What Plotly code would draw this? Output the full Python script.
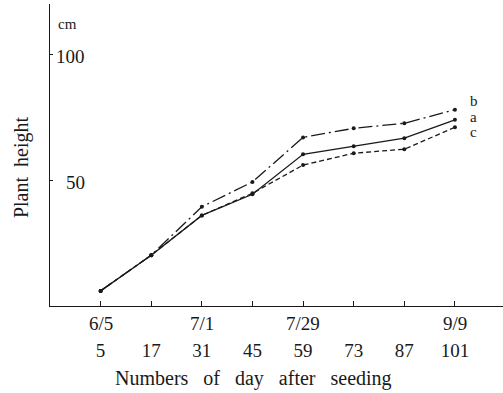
import plotly.graph_objects as go

days = [5, 17, 31, 45, 59, 73, 87, 101]
dates = ["6/5", "", "7/1", "", "7/29", "", "", "9/9"]
series_a = [6.0, 20.2, 36.0, 44.4, 60.3, 63.5, 66.7, 74.0]
series_b = [6.0, 20.2, 39.4, 49.3, 67.0, 70.6, 72.6, 78.0]
series_c = [6.0, 20.2, 36.0, 44.8, 56.0, 60.7, 62.3, 71.0]
y_ticks = [50, 100]

FONT = "Liberation Serif"
INK = "#1a1a1a"
xi = list(range(len(days)))

fig = go.Figure()
styles = [("a", series_a, "solid"), ("b", series_b, "14px,4px,2px,4px"), ("c", series_c, "5px,3px")]
for name, vals, dash in styles:
    fig.add_trace(go.Scatter(
        x=xi, y=vals, mode="lines+markers", name=name,
        line=dict(color=INK, width=1.3, dash=dash),
        marker=dict(color=INK, size=4),
        showlegend=False, hoverinfo="skip"))

ann = []
# series letters at the right end
for name, vals, dy in [("b", series_b, 9), ("a", series_a, 3), ("c", series_c, -5)]:
    ann.append(dict(x=xi[-1], y=vals[-1], xref="x", yref="y", text=name,
                    showarrow=False, xanchor="left", yanchor="middle",
                    xshift=14, yshift=dy, borderpad=0,
                    font=dict(family=FONT, size=15, color=INK)))
# date row
for i, d in enumerate(dates):
    if d:
        ann.append(dict(x=xi[i], y=0, xref="x", yref="paper", text=d, showarrow=False,
                        xanchor="center", yanchor="middle", yshift=-17,
                        font=dict(family=FONT, size=19, color=INK)))
# y tick labels inside, right aligned
for v in y_ticks:
    ann.append(dict(x=0, y=v, xref="paper", yref="y", text=str(v), showarrow=False,
                    xanchor="right", yanchor="middle", xshift=37, yshift=-2,
                    font=dict(family=FONT, size=19, color=INK)))
ann.append(dict(x=0, y=112, xref="paper", yref="y", text="cm", showarrow=False,
                xanchor="left", yanchor="middle", xshift=6,
                font=dict(family=FONT, size=15, color=INK)))
ann.append(dict(x=0, y=0.46, xref="paper", yref="paper", text="Plant  height", showarrow=False,
                textangle=-90, xanchor="center", yanchor="middle", xshift=-29,
                font=dict(family=FONT, size=20, color=INK)))
ann.append(dict(x=0.45, y=0, xref="paper", yref="paper", text="Numbers   of   day   after   seeding",
                showarrow=False, xanchor="center", yanchor="middle", yshift=-72,
                font=dict(family=FONT, size=20, color=INK)))

fig.update_layout(
    width=503, height=393,
    margin=dict(l=50, r=0, t=4, b=87),
    paper_bgcolor="white", plot_bgcolor="white",
    font=dict(family=FONT, size=19, color=INK),
    annotations=ann,
    xaxis=dict(range=[-1, 7.95], tickmode="array", tickvals=xi,
               ticktext=[str(d) for d in days],
               ticks="inside", ticklen=5, tickcolor=INK, tickwidth=1,
               showline=True, linecolor=INK, linewidth=1.3,
               showgrid=False, zeroline=False, ticklabelstandoff=27,
               tickfont=dict(family=FONT, size=19, color=INK)),
    yaxis=dict(range=[0, 120], tickmode="array", tickvals=y_ticks,
               ticks="inside", ticklen=3, tickcolor=INK, showticklabels=False,
               showline=True, linecolor=INK, linewidth=1.3,
               showgrid=False, zeroline=False),
)

fig.write_html("out.html")
